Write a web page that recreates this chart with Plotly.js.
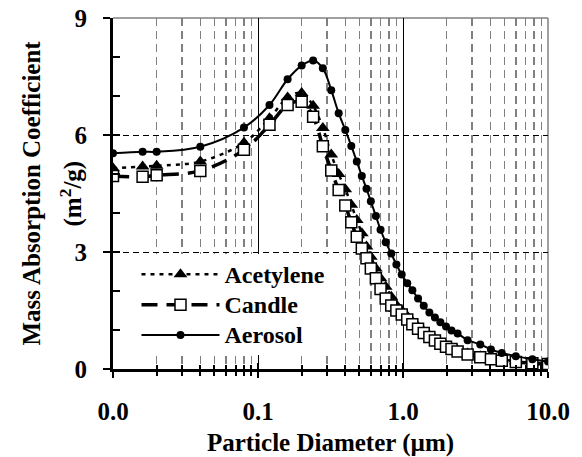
<!DOCTYPE html>
<html><head><meta charset="utf-8">
<script src="https://cdn.plot.ly/plotly-3.0.1.min.js"></script>
<style>html,body{margin:0;padding:0;background:#fff}</style>
</head><body><div id="chart" style="width:582px;height:457px"></div>
<script>
// Particle diameter (µm)
const diameter = [0.01, 0.016, 0.02, 0.04, 0.08, 0.12, 0.16, 0.2, 0.24, 0.28, 0.32, 0.36, 0.4, 0.44, 0.48, 0.52, 0.56, 0.6, 0.65, 0.7, 0.76, 0.83, 0.9, 0.98, 1.07, 1.16, 1.27, 1.39, 1.52, 1.66, 1.81, 1.98, 2.16, 2.38, 2.79, 3.41, 4.04, 4.8, 6.0, 7.8, 10];
// Mass absorption coefficient (m2/g)
const acetylene = [5.15, 5.19, 5.21, 5.32, 5.8, 6.43, 6.96, 7.08, 6.75, 6.18, 5.5, 5.0, 4.61, 4.21, 3.82, 3.48, 3.14, 2.88, 2.58, 2.33, 2.11, 1.85, 1.64, 1.5, 1.35, 1.22, 1.08, 0.96, 0.86, 0.77, 0.68, 0.6, 0.54, 0.48, 0.4, 0.33, 0.28, 0.24, 0.2, 0.16, 0.14];
const candle = [4.95, 4.93, 4.97, 5.08, 5.62, 6.26, 6.77, 6.85, 6.47, 5.71, 5.09, 4.59, 4.19, 3.76, 3.39, 3.09, 2.84, 2.58, 2.33, 2.05, 1.81, 1.63, 1.5, 1.4, 1.27, 1.15, 1.03, 0.92, 0.82, 0.73, 0.65, 0.57, 0.51, 0.45, 0.37, 0.3, 0.25, 0.21, 0.18, 0.15, 0.13];
const aerosol = [5.53, 5.57, 5.57, 5.7, 6.19, 6.77, 7.43, 7.78, 7.91, 7.71, 7.15, 6.56, 6.13, 5.72, 5.32, 4.95, 4.62, 4.3, 3.92, 3.57, 3.25, 2.96, 2.68, 2.42, 2.2, 2.02, 1.81, 1.62, 1.45, 1.32, 1.2, 1.09, 0.99, 0.91, 0.74, 0.63, 0.5, 0.41, 0.33, 0.25, 0.19];
const seriesNames = ['Acetylene', 'Candle', 'Aerosol'];
const xTickVals = [0.01, 0.1, 1, 10];
const xTickText = ['0.0', '0.1', '1.0', '10.0'];
const yTickVals = [0, 3, 6, 9];
const yTickText = ['0', '3', '6', '9'];

const FONT = 'Liberation Serif, Times New Roman, serif';
const FS = 25;
const legendName = n => '<span style="font-size:24px">' + n + '</span>';
const minorX = [];
for (let d = -2; d < 1; d++) for (let k = 2; k <= 9; k++) minorX.push(k * Math.pow(10, d));
const minorY = [1, 2, 4, 5, 7, 8];

const traces = [
  {x: diameter, y: acetylene, name: legendName(seriesNames[0]), mode: 'lines+markers',
   line: {color: '#000', width: 2.5, dash: '4px,5px', shape: 'spline'},
   marker: {symbol: 'triangle-up', size: 12, color: '#000'}},
  {x: diameter, y: candle, name: legendName(seriesNames[1]), mode: 'lines+markers',
   line: {color: '#000', width: 3.5, dash: '16px,9px', shape: 'spline'},
   marker: {symbol: 'square', size: 11, color: '#fff', line: {color: '#000', width: 1.5}}},
  {x: diameter, y: aerosol, name: legendName(seriesNames[2]), mode: 'lines+markers',
   line: {color: '#000', width: 2, shape: 'spline'},
   marker: {symbol: 'circle', size: 8, color: '#000'}},
  {x: [], y: [], xaxis: 'x2', yaxis: 'y', showlegend: false, hoverinfo: 'skip'},
  {x: [], y: [], xaxis: 'x', yaxis: 'y2', showlegend: false, hoverinfo: 'skip'}
];

const layout = {
  width: 582, height: 457,
  margin: {l: 113, r: 34, t: 18, b: 88},
  paper_bgcolor: '#fff', plot_bgcolor: '#fff',
  font: {family: FONT, color: '#000', size: FS, weight: 'bold'},
  showlegend: true,
  legend: {x: 0.054, y: 0.327, xanchor: 'left', yanchor: 'top', bgcolor: '#fff',
           font: {family: FONT, size: 21, weight: 'bold', color: '#000'}, itemwidth: 78, tracegroupgap: 0},
  xaxis: {type: 'log', range: [-2, 1], tickmode: 'array', tickvals: xTickVals, ticktext: xTickText,
          ticks: 'outside', ticklen: 6, tickwidth: 2, tickcolor: '#000',
          showline: true, linewidth: 3, linecolor: '#000', showgrid: false, zeroline: false,
          ticklabelstandoff: 12,
          tickfont: {family: FONT, size: FS, weight: 'bold'},
          minor: {tickmode: 'array', tickvals: minorX, ticks: 'outside', ticklen: 4, tickwidth: 2, tickcolor: '#000',
                  showgrid: true, gridcolor: '#808080', gridwidth: 1.5, griddash: '8px,5px'},
          title: {text: 'Particle Diameter (µm)', font: {family: FONT, size: FS, weight: 'bold'}, standoff: 10}},
  xaxis2: {type: 'log', range: [-2, 1], overlaying: 'x', anchor: 'y', tickmode: 'array', tickvals: [0.1, 1],
           showticklabels: false, ticks: 'inside', ticklen: 6, tickwidth: 2, tickcolor: '#000',
           showgrid: true, gridcolor: '#000', gridwidth: 1, showline: false, zeroline: false,
           minor: {tickmode: 'array', tickvals: minorX, ticks: 'inside', ticklen: 4, tickwidth: 2, tickcolor: '#000', showgrid: false}},
  yaxis: {range: [0, 9], tickmode: 'array', tickvals: yTickVals, ticktext: yTickText,
          ticks: 'outside', ticklen: 7, tickwidth: 2, tickcolor: '#000',
          showline: true, linewidth: 3, linecolor: '#000', showgrid: false, zeroline: false,
          ticklabelstandoff: 11,
          tickfont: {family: FONT, size: FS, weight: 'bold'}},
  yaxis2: {range: [0, 9], overlaying: 'y', anchor: 'x', side: 'left', tickmode: 'array', tickvals: [3, 6],
           showticklabels: false, ticks: 'inside', ticklen: 7, tickwidth: 2, tickcolor: '#000',
           showgrid: true, gridcolor: '#000', gridwidth: 1, griddash: '6px,4px', showline: false, zeroline: false,
           minor: {tickmode: 'array', tickvals: minorY, ticks: 'inside', ticklen: 7, tickwidth: 2, tickcolor: '#000', showgrid: false}},
  shapes: [
    {type: 'line', xref: 'paper', yref: 'paper', x0: 0, x1: 1, y0: 1, y1: 1, line: {color: '#808080', width: 1.5}, layer: 'below'},
    {type: 'line', xref: 'paper', yref: 'paper', x0: 1, x1: 1, y0: 0, y1: 1, line: {color: '#808080', width: 1.5}, layer: 'below'}
  ],
  annotations: [
    {xref: 'paper', yref: 'paper', x: -113/435 + 31/435, y: 0.5, xanchor: 'center', yanchor: 'middle',
     text: 'Mass Absorption Coefficient', textangle: -90, showarrow: false,
     font: {family: FONT, size: FS, weight: 'bold'}},
    {xref: 'paper', yref: 'paper', x: -113/435 + 71/435, y: 0.5, xanchor: 'center', yanchor: 'middle',
     text: '(m<sup>2</sup>/g)', textangle: -90, showarrow: false,
     font: {family: FONT, size: FS, weight: 'bold'}}
  ]
};

Plotly.newPlot('chart', traces, layout, {displayModeBar: false, staticPlot: true});
</script></body></html>
